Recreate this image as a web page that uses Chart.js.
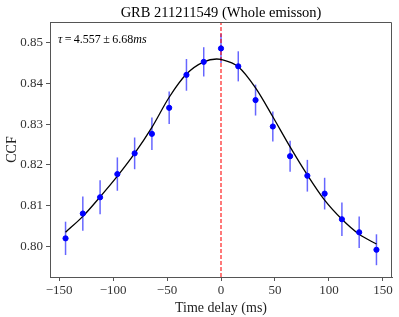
<!DOCTYPE html>
<html>
<head>
<meta charset="utf-8">
<script src="https://cdn.jsdelivr.net/npm/chart.js@4"></script>
<style>
  html, body { margin: 0; padding: 0; background: #fff; }
  #wrap { width: 399px; height: 317px; }
</style>
</head>
<body>
<div id="wrap"><canvas id="chart" width="399" height="317"></canvas></div>
<script>
// measured CCF points (time delay in ms)
const lags = [-144, -128, -112, -96, -80, -64, -48, -32, -16, 0, 16, 32, 48, 64, 80, 96, 112, 128, 144];
const ccf = [0.8019, 0.8080, 0.8120, 0.8177, 0.8228, 0.8276, 0.8340, 0.8421, 0.8453, 0.8486,
             0.8442, 0.8359, 0.8294, 0.8221, 0.8173, 0.8129, 0.8066, 0.8034, 0.7991];
const ccfErr = [0.0041, 0.0042, 0.0042, 0.0041, 0.0039, 0.0040, 0.0040, 0.0039, 0.0036, 0.0036,
                0.0037, 0.0038, 0.0037, 0.0038, 0.0039, 0.0039, 0.0041, 0.0039, 0.0038];

// fitted curve
const fitX = [-144, -128, -112, -96, -80, -64, -48, -32, -16, -4, 0, 16, 32, 48, 64, 80, 96, 112, 128, 144];
const fitY = [0.8034, 0.8073, 0.8121, 0.8172, 0.8228, 0.8292, 0.8366, 0.8423, 0.8453, 0.8460, 0.8459,
              0.8441, 0.8389, 0.8318, 0.8244, 0.8175, 0.8113, 0.8066, 0.8029, 0.8005];

const xTicks = [-150, -100, -50, 0, 50, 100, 150];
const yTicks = [0.80, 0.81, 0.82, 0.83, 0.84, 0.85];
const xRange = [-158.4, 158.4];
const yRange = [0.7924, 0.8551];
const peakLag = 0;

const titleText = "GRB 211211549 (Whole emisson)";
const serif = "'Liberation Serif', 'DejaVu Serif', serif";
const spine = "#555";

// error bars, top/right frame, title over the axes, tau label
const extras = {
    id: "extras",
    beforeDatasetsDraw(chart) {
        const { ctx, scales: { x, y } } = chart;
        ctx.save();
        ctx.strokeStyle = "rgba(0, 0, 255, 0.6)";
        ctx.lineWidth = 1.5;
        lags.forEach((t, i) => {
            const px = x.getPixelForValue(t);
            ctx.beginPath();
            ctx.moveTo(px, y.getPixelForValue(ccf[i] - ccfErr[i]));
            ctx.lineTo(px, y.getPixelForValue(ccf[i] + ccfErr[i]));
            ctx.stroke();
        });
        ctx.restore();
    },
    afterDraw(chart) {
        const { ctx, chartArea: a } = chart;
        ctx.save();
        ctx.strokeStyle = spine;
        ctx.lineWidth = 1;
        ctx.beginPath();
        ctx.moveTo(a.left, a.top + 0.5);
        ctx.lineTo(a.right - 0.5, a.top + 0.5);
        ctx.lineTo(a.right - 0.5, a.bottom);
        ctx.stroke();

        ctx.fillStyle = "#000";
        ctx.font = "14.5px " + serif;
        ctx.textAlign = "center";
        ctx.textBaseline = "alphabetic";
        ctx.fillText(titleText, (a.left + a.right) / 2, a.top - 5);

        ctx.textAlign = "left";
        let tx = a.left + 8;
        const ty = a.top + 21;
        const parts = [
            ["italic 12px " + serif, "τ"],
            ["12px " + serif, "\u2009=\u20094.557\u2009±\u20096.68"],
            ["italic 12px " + serif, "ms"]
        ];
        parts.forEach(([f, s]) => {
            ctx.font = f;
            ctx.fillText(s, tx, ty);
            tx += ctx.measureText(s).width;
        });
        ctx.restore();
    }
};

new Chart(document.getElementById("chart"), {
    type: "scatter",
    data: {
        datasets: [
            {
                label: "peak",
                type: "line",
                data: [{ x: peakLag, y: yRange[0] }, { x: peakLag, y: yRange[1] }],
                borderColor: "rgba(255, 0, 0, 0.7)",
                borderWidth: 1.5,
                borderDash: [4, 2],
                pointRadius: 0,
                order: 3
            },
            {
                label: "fit",
                type: "line",
                data: fitX.map((t, i) => ({ x: t, y: fitY[i] })),
                borderColor: "#000",
                borderWidth: 1.3,
                pointRadius: 0,
                cubicInterpolationMode: "monotone",
                order: 2
            },
            {
                label: "CCF",
                data: lags.map((t, i) => ({ x: t, y: ccf[i] })),
                backgroundColor: "#0000ff",
                borderColor: "#0000ff",
                pointRadius: 2.6,
                order: 1
            }
        ]
    },
    options: {
        responsive: false,
        animation: false,
        events: [],
        layout: { padding: { left: 0, right: 7, top: 22, bottom: 0 } },
        plugins: {
            legend: { display: false },
            tooltip: { enabled: false },
            title: { display: false }
        },
        scales: {
            x: {
                type: "linear",
                min: xRange[0],
                max: xRange[1],
                afterBuildTicks: axis => { axis.ticks = xTicks.map(v => ({ value: v })); },
                afterFit: axis => { axis.height = 40; },
                border: { display: true, color: spine, width: 1 },
                grid: { drawOnChartArea: false, drawTicks: true, tickLength: 4, color: spine },
                ticks: {
                    color: "#333",
                    padding: 2,
                    maxRotation: 0,
                    font: { family: serif, size: 13 },
                    callback: v => String(v).replace("-", "\u2212")
                },
                title: {
                    display: true,
                    text: "Time delay (ms)",
                    color: "#222",
                    font: { family: serif, size: 14 },
                    padding: { top: 0, bottom: 0 }
                }
            },
            y: {
                type: "linear",
                min: yRange[0],
                max: yRange[1],
                afterBuildTicks: axis => { axis.ticks = yTicks.map(v => ({ value: v })); },
                afterFit: axis => { axis.width = 50; },
                border: { display: true, color: spine, width: 1 },
                grid: { drawOnChartArea: false, drawTicks: true, tickLength: 4, color: spine },
                ticks: {
                    color: "#333",
                    padding: 3,
                    font: { family: serif, size: 13 },
                    callback: v => v.toFixed(2)
                },
                title: {
                    display: true,
                    text: "CCF",
                    color: "#222",
                    font: { family: serif, size: 14 },
                    padding: { top: 4, bottom: 2 }
                }
            }
        }
    },
    plugins: [extras]
});
</script>
</body>
</html>
